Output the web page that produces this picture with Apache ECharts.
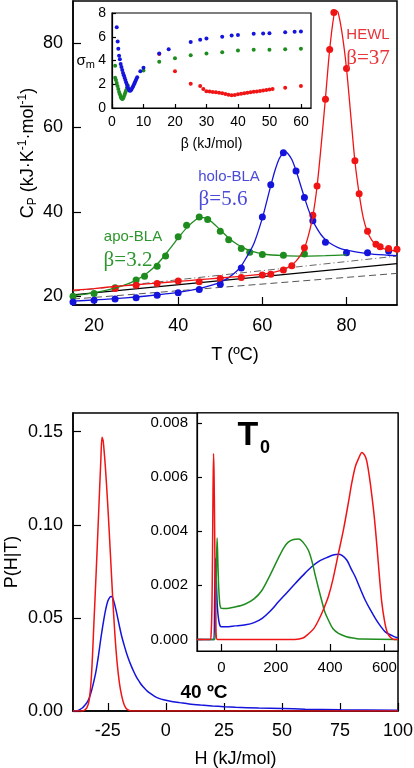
<!DOCTYPE html>
<html><head><meta charset="utf-8">
<script src="https://cdn.jsdelivr.net/npm/echarts@6/dist/echarts.min.js"></script>
<style>html,body{margin:0;padding:0;background:#fff}#c{width:414px;height:768px}</style>
</head><body><div id="c"></div>
<script>
// ---------- Top panel: heat capacity ----------
const hewlT  = [25,30,35,40,45,50,55,60,62,65,67,70,72,73,75,76,77,80,82,83,85,87,88,90,92];
const hewlCp = [21.8,22.6,23.0,23.6,23.4,24.2,24.4,25.0,25.2,26.2,27.2,31.5,39.2,46.1,66.7,78.5,87.3,74.0,52.1,44.3,35.4,32.3,31.7,31.3,31.1];
const hewlFitT  = [15,20,25,30,35,40,45,50,55,60,62,64,66,67,68,69,70,71,72,73,74,75,76,77,77.5,78,79,80,81,82,83,84,85,86,87,88,89,90,92];
const hewlFitCp = [21.4,21.8,22.3,22.7,23.1,23.5,23.9,24.3,24.7,25.2,25.5,26.0,26.8,27.4,28.3,29.6,31.4,34.6,39.0,46.0,56.0,67.0,78.5,86.5,87.7,87.3,82.0,74.0,63.0,52.0,44.3,38.5,35.2,33.3,32.2,31.6,31.2,31.0,30.6];

const holoT  = [15,20,25,30,35,40,45,50,55,60,62,65,68,70,72,75,80,85,90];
const holoCp = [18.6,19.0,19.3,19.6,20.2,20.8,21.6,22.8,26.7,38.8,46.4,54.0,49.7,43.4,37.9,32.8,30.3,30.3,30.7];
const holoFitT  = [15,20,25,30,35,40,45,48,50,52,54,55,56,58,60,61,62,63,64,65,65.5,66,67,68,69,70,71,72,73,74,75,76,78,80,85,90,92];
const holoFitCp = [18.8,19.1,19.4,19.8,20.3,20.9,21.8,22.6,23.3,24.4,26.0,27.2,28.8,32.5,38.5,42.3,46.2,49.8,52.6,54.0,54.2,53.9,52.4,49.8,46.6,43.4,40.4,37.9,36.0,34.5,33.4,32.6,31.5,30.9,30.1,29.7,29.6];

const apoT  = [15,20,25,30,32,35,37,40,42,45,47,50,52,55,57,60,65,70];
const apoCp = [20.0,20.6,22.0,23.8,24.7,27.1,29.5,34.1,36.8,38.8,38.2,35.4,33.4,31.3,30.4,29.9,29.7,30.0];
const apoFitT  = [15,20,25,28,30,32,34,36,38,40,42,44,45,46,47,48,50,52,54,56,58,60,65,70,75,80];
const apoFitCp = [20.1,20.8,21.9,22.9,23.8,25.0,26.6,28.7,31.2,33.8,36.2,38.0,38.5,38.6,38.3,37.6,35.7,33.8,32.3,31.2,30.5,30.0,29.6,29.5,29.6,29.8];

const baseT = [15, 92];
const baseSolid   = [20.3, 27.7];
const baseDashed  = [19.3, 25.4];
const baseDashDot = [21.2, 29.5];

// inset: sigma_m vs beta
const holoBeta  = [1.5,1.8,2.0,2.25,2.5,2.75,3.0,3.25,3.5,3.75,4.0,4.25,4.5,4.75,5.0,5.25,5.5,5.75,6.0,6.25,6.5,6.75,7.0,7.25,7.5,7.75,8.0,9,10,15,18,25,28,30,35,38,40,45,48,50,55,58,60];
const holoSigma = [6.8,5.6,5.0,4.4,4.1,3.7,3.45,3.2,2.95,2.75,2.55,2.35,2.15,1.95,1.75,1.6,1.48,1.45,1.5,1.6,1.72,1.85,2.0,2.15,2.3,2.45,2.6,3.1,3.4,4.6,4.95,5.55,5.75,5.85,6.0,6.1,6.15,6.25,6.28,6.3,6.38,6.42,6.45];
const apoBeta  = [1.0,1.0,1.25,1.5,1.75,2.0,2.25,2.5,2.75,3.0,3.25,3.5,3.75,4.0,4.25,4.5,4.75,5.0,10,15,20,25,30,35,40,45,50,55,60];
const apoSigma = [3.55,2.55,2.35,2.1,1.85,1.6,1.35,1.15,0.95,0.82,0.76,0.8,0.95,1.12,1.3,1.5,1.7,1.9,3.15,3.9,4.2,4.45,4.6,4.7,4.85,4.9,4.9,4.95,5.0];
const hewlBeta  = [15,20,25,28,29,30,31,32,33,34,35,36,37,38,39,40,41,42,43,44,45,46,47,48,49,50,51,55,60];
const hewlSigma = [4.55,3.1,2.05,1.85,1.6,1.42,1.38,1.35,1.32,1.28,1.24,1.18,1.12,1.08,1.1,1.15,1.2,1.24,1.28,1.32,1.36,1.4,1.44,1.48,1.52,1.56,1.6,1.7,1.85];

// ---------- Bottom panel: P(H|T) at 40 C ----------
const hewlH40 = [-40,-36,-35,-34,-33,-32,-31,-30,-29,-28,-27.5,-27,-26,-25,-24,-23,-22,-21,-20,-19,-18,-17,-16,-15,-12,100];
const hewlP40 = [0,0,0.0005,0.0018,0.006,0.020,0.047,0.075,0.105,0.135,0.147,0.145,0.130,0.110,0.087,0.063,0.042,0.026,0.015,0.008,0.0035,0.0012,0.0004,0,0,0];
const holoH40 = [-40,-38,-36,-35,-34,-33,-32,-31,-30,-29,-28,-27,-26,-25,-24,-23.5,-23,-22,-21,-20,-19,-18,-17,-16,-15,-14,-13,-12,-11,-10,-9,-8,-7,-5,-3,-1,2,6,10,15,20,25,30,40,50,60,75,100];
const holoP40 = [0,0.0002,0.0016,0.003,0.0045,0.007,0.011,0.016,0.022,0.030,0.039,0.047,0.054,0.059,0.0613,0.0615,0.061,0.057,0.0515,0.0455,0.040,0.0355,0.0313,0.0277,0.0245,0.0216,0.0190,0.0168,0.0149,0.0133,0.0119,0.0107,0.0097,0.0080,0.0068,0.0060,0.0052,0.0045,0.0038,0.0032,0.0027,0.0023,0.0020,0.0016,0.0013,0.0010,0.0007,0.0004];

// inset: P(H|T0)
const hewlH0 = [-90,-42,-38,-35,-33,-31,-29,-27,-25,-23,-21,-19,-16,270,300,320,340,357,375,394,410,431,450,468,480,493,505,517,528,535,545,554,563,572,581,590,600,609,620,635,650];
const hewlP0 = [0,0,0.0002,0.0012,0.003,0.0055,0.00688,0.006,0.004,0.0018,0.0006,0.0001,0,0,0.00005,0.0002,0.0004,0.0007,0.0011,0.0016,0.0022,0.0032,0.0041,0.0051,0.0058,0.0064,0.0067,0.00692,0.0068,0.0066,0.0060,0.0053,0.0045,0.0035,0.0024,0.0014,0.0007,0.0003,0.0001,0,0];
const apoH0 = [-90,-24,-21,-18,-16,-13,-10,-6,-2,0,15,50,86,120,148,180,209,230,246,265,285,300,320,333,344,357,369,381,394,410,431,460,486,520,650];
const apoP0 = [0,0,0.001,0.003,0.00375,0.0028,0.0019,0.0013,0.00115,0.00114,0.00114,0.0012,0.0013,0.0015,0.0018,0.0024,0.0030,0.0034,0.0036,0.0037,0.00372,0.0036,0.0033,0.0029,0.00243,0.0019,0.00144,0.001,0.00071,0.0004,0.00022,0.0001,0.00005,0.00001,0];
const holoH0 = [-90,-28,-25,-22,-19,-15,-10,-5,0,15,50,89,120,150,180,209,240,270,300,331,360,393,415,430,445,462,478,493,510,530,548,567,585,604,630,650];
const holoP0 = [0,0,0.0015,0.003,0.0022,0.0012,0.0007,0.0005,0.00047,0.00047,0.0005,0.00054,0.00062,0.00078,0.00105,0.00138,0.00172,0.00205,0.00237,0.00268,0.0029,0.00305,0.00313,0.00315,0.0031,0.00293,0.0026,0.00231,0.0019,0.00144,0.0011,0.00077,0.0005,0.00027,0.00013,0.00005];

// tick values
const topXTicks = [20,40,60,80];
const topYTicks = [20,40,60,80];
const insXTicks = [0,10,20,30,40,50,60];
const insYTicks = [0,2,4,6,8];
const botXTicks = [-25,0,25,50,75,100];
const botYTicks = [0,0.05,0.10,0.15];
const bInsXTicks = [0,200,400,600];
const bInsYTicks = [0,0.002,0.004,0.006,0.008];

// ---------- build ----------
const FF = 'Liberation Sans, Arial, sans-serif';
const RED = '#f01414', BLUE = '#1414dc', GREEN = '#1e8c1e';
function pairs(xs, ys){ return xs.map((x,i)=>[x, ys[i]]); }
function ax(gi, min, max, ticks, o){
  o = o || {};
  return Object.assign({
    gridIndex: gi, type: 'value', min: min, max: max,
    nameMoveOverlap: false,
    axisLine: {show: true, onZero: false, lineStyle: {color: '#000', width: o.lw || 1.5}},
    axisTick: {show: true, inside: true, length: o.tl || 8, customValues: ticks, lineStyle: {color: '#000', width: 1.2}},
    axisLabel: {customValues: ticks, fontSize: o.fs || 18, fontFamily: FF, color: '#000', margin: o.margin || 10, formatter: o.fmt},
    splitLine: {show: false},
    z: o.z || 0
  }, o.extra || {});
}
const chart = echarts.init(document.getElementById('c'));
const G = {show: true, borderColor: '#000', outerBoundsMode: 'none', containLabel: false};
const option = {
  animation: false,
  backgroundColor: '#fff',
  grid: [
    Object.assign({left: 73, top: 1, width: 324, height: 304, borderWidth: 1.5, backgroundColor: 'transparent'}, G),
    Object.assign({left: 112, top: 13, width: 199, height: 95, borderWidth: 1.2, backgroundColor: '#fff', z: 5}, G),
    Object.assign({left: 73, top: 413, width: 325, height: 298, borderWidth: 1.5, backgroundColor: 'transparent'}, G),
    Object.assign({left: 197, top: 413, width: 201, height: 238, borderWidth: 1.2, backgroundColor: '#fff', z: 5}, G)
  ],
  xAxis: [
    ax(0, 15, 92, topXTicks, {margin: 12, extra: {name: 'T (ºC)', nameLocation: 'middle', nameGap: 41, nameTextStyle: {fontSize: 18, fontFamily: FF, color: '#000'}}}),
    ax(1, 0, 63.2, insXTicks, {fs: 14, margin: 7, tl: 4, lw: 1.2, z: 6, extra: {name: 'β (kJ/mol)', nameLocation: 'middle', nameGap: 29, nameTextStyle: {fontSize: 14, fontFamily: FF, color: '#000'}}}),
    ax(2, -40, 100, botXTicks, {margin: 11, extra: {name: 'H (kJ/mol)', nameLocation: 'middle', nameGap: 39, nameTextStyle: {fontSize: 18, fontFamily: FF, color: '#000'}}}),
    ax(3, -90, 650, bInsXTicks, {fs: 15, margin: 9, tl: 7, lw: 1.2, z: 6})
  ],
  yAxis: [
    ax(0, 17.9, 90, topYTicks, {margin: 10, extra: {
      name: '{n|C}{s|P}{n| (kJ·K}{u|-1}{n|·mol}{u|-1}{n|)}', nameLocation: 'middle', nameRotate: 90, nameGap: 34,
      nameTextStyle: {rich: {
        n: {fontSize: 18, fontFamily: FF, color: '#000', lineHeight: 22},
        s: {fontSize: 12, fontFamily: FF, color: '#000', verticalAlign: 'bottom', lineHeight: 14},
        u: {fontSize: 12, fontFamily: FF, color: '#000', verticalAlign: 'top', lineHeight: 14}
      }}}}),
    ax(1, 0, 8, insYTicks, {fs: 14, margin: 6, tl: 4, lw: 1.2, z: 6, extra: {
      name: '{a|σ}{b|m}', nameLocation: 'middle', nameRotate: 0, nameGap: 17,
      nameTextStyle: {rich: {
        a: {fontSize: 15, fontFamily: FF, color: '#000', lineHeight: 20},
        b: {fontSize: 11, fontFamily: FF, color: '#000', verticalAlign: 'bottom', lineHeight: 12}
      }}}}),
    ax(2, 0, 0.16, botYTicks, {margin: 10, fmt: v => v.toFixed(2), extra: {
      name: 'P(H|T)', nameLocation: 'middle', nameRotate: 90, nameGap: 52,
      nameTextStyle: {fontSize: 18, fontFamily: FF, color: '#000'}}}),
    ax(3, -0.00043, 0.00838, bInsYTicks, {fs: 15, margin: 9, tl: 5, lw: 1.2, z: 6, fmt: v => v.toFixed(3)})
  ],
  series: [
    // baselines
    {type: 'line', xAxisIndex: 0, yAxisIndex: 0, data: pairs(baseT, baseDashDot), showSymbol: false, lineStyle: {color: '#666', width: 1, type: [7, 3, 1, 3]}, z: 1},
    {type: 'line', xAxisIndex: 0, yAxisIndex: 0, data: pairs(baseT, baseSolid), showSymbol: false, lineStyle: {color: '#000', width: 1.2}, z: 1},
    {type: 'line', xAxisIndex: 0, yAxisIndex: 0, data: pairs(baseT, baseDashed), showSymbol: false, lineStyle: {color: '#555', width: 1, type: [7, 4]}, z: 1},
    // fits
    {type: 'line', xAxisIndex: 0, yAxisIndex: 0, data: pairs(apoFitT, apoFitCp), showSymbol: false, smooth: 0.3, lineStyle: {color: GREEN, width: 1.3}},
    {type: 'line', xAxisIndex: 0, yAxisIndex: 0, data: pairs(holoFitT, holoFitCp), showSymbol: false, smooth: 0.3, lineStyle: {color: BLUE, width: 1.3}},
    {type: 'line', xAxisIndex: 0, yAxisIndex: 0, data: pairs(hewlFitT, hewlFitCp), showSymbol: false, smooth: 0.3, lineStyle: {color: RED, width: 1.3}},
    // points
    {type: 'scatter', xAxisIndex: 0, yAxisIndex: 0, data: pairs(apoT, apoCp), symbolSize: 7, itemStyle: {color: GREEN, opacity: 1}},
    {type: 'scatter', xAxisIndex: 0, yAxisIndex: 0, data: pairs(holoT, holoCp), symbolSize: 7, itemStyle: {color: BLUE, opacity: 1}},
    {type: 'scatter', xAxisIndex: 0, yAxisIndex: 0, data: pairs(hewlT, hewlCp), symbolSize: 7, itemStyle: {color: RED, opacity: 1}},
    // inset sigma
    {type: 'scatter', xAxisIndex: 1, yAxisIndex: 1, data: pairs(hewlBeta, hewlSigma), symbolSize: 4, itemStyle: {color: RED, opacity: 1}, z: 7},
    {type: 'scatter', xAxisIndex: 1, yAxisIndex: 1, data: pairs(apoBeta, apoSigma), symbolSize: 4, itemStyle: {color: GREEN, opacity: 1}, z: 7},
    {type: 'scatter', xAxisIndex: 1, yAxisIndex: 1, data: pairs(holoBeta, holoSigma), symbolSize: 4, itemStyle: {color: BLUE, opacity: 1}, z: 7},
    // bottom main
    {type: 'line', xAxisIndex: 2, yAxisIndex: 2, data: pairs(holoH40, holoP40), showSymbol: false, smooth: 0.3, lineStyle: {color: BLUE, width: 1.5}},
    {type: 'line', xAxisIndex: 2, yAxisIndex: 2, data: pairs(hewlH40, hewlP40), showSymbol: false, smooth: 0.3, lineStyle: {color: RED, width: 1.5}},
    // bottom inset
    {type: 'line', xAxisIndex: 3, yAxisIndex: 3, data: pairs(holoH0, holoP0), showSymbol: false, smooth: 0.3, lineStyle: {color: BLUE, width: 1.5}, z: 7},
    {type: 'line', xAxisIndex: 3, yAxisIndex: 3, data: pairs(apoH0, apoP0), showSymbol: false, smooth: 0.3, lineStyle: {color: GREEN, width: 1.5}, z: 7},
    {type: 'line', xAxisIndex: 3, yAxisIndex: 3, data: pairs(hewlH0, hewlP0), showSymbol: false, smooth: 0.3, lineStyle: {color: RED, width: 1.5}, z: 7}
  ],
  graphic: [
    {type: 'text', z: 100, style: {text: 'HEWL', x: 368, y: 35, align: 'center', verticalAlign: 'middle', fontSize: 15, fontFamily: FF, fill: '#e83438'}},
    {type: 'text', z: 100, style: {text: 'β=37', x: 368, y: 58, align: 'center', verticalAlign: 'middle', fontSize: 21, fontFamily: 'Liberation Serif, serif', fill: '#e83438'}},
    {type: 'text', z: 100, style: {text: 'holo-BLA', x: 229, y: 177, align: 'center', verticalAlign: 'middle', fontSize: 15, fontFamily: FF, fill: '#4b4bd8'}},
    {type: 'text', z: 100, style: {text: 'β=5.6', x: 223, y: 199, align: 'center', verticalAlign: 'middle', fontSize: 21, fontFamily: 'Liberation Serif, serif', fill: '#4b4bd8'}},
    {type: 'text', z: 100, style: {text: 'apo-BLA', x: 133, y: 237, align: 'center', verticalAlign: 'middle', fontSize: 15, fontFamily: FF, fill: '#2d962d'}},
    {type: 'text', z: 100, style: {text: 'β=3.2', x: 128, y: 260, align: 'center', verticalAlign: 'middle', fontSize: 21, fontFamily: 'Liberation Serif, serif', fill: '#2d962d'}},
    {type: 'text', z: 100, style: {text: 'T', x: 248, y: 436, align: 'center', verticalAlign: 'middle', fontSize: 34, fontWeight: 'bold', fontFamily: FF, fill: '#000'}},
    {type: 'text', z: 100, style: {text: '0', x: 265, y: 448, align: 'center', verticalAlign: 'middle', fontSize: 18, fontWeight: 'bold', fontFamily: FF, fill: '#000'}},
    {type: 'text', z: 100, style: {text: '40 ºC', x: 204, y: 693, align: 'center', verticalAlign: 'middle', fontSize: 19, fontWeight: 'bold', fontFamily: FF, fill: '#000'}}
  ]
};
chart.setOption(option);
</script></body></html>
